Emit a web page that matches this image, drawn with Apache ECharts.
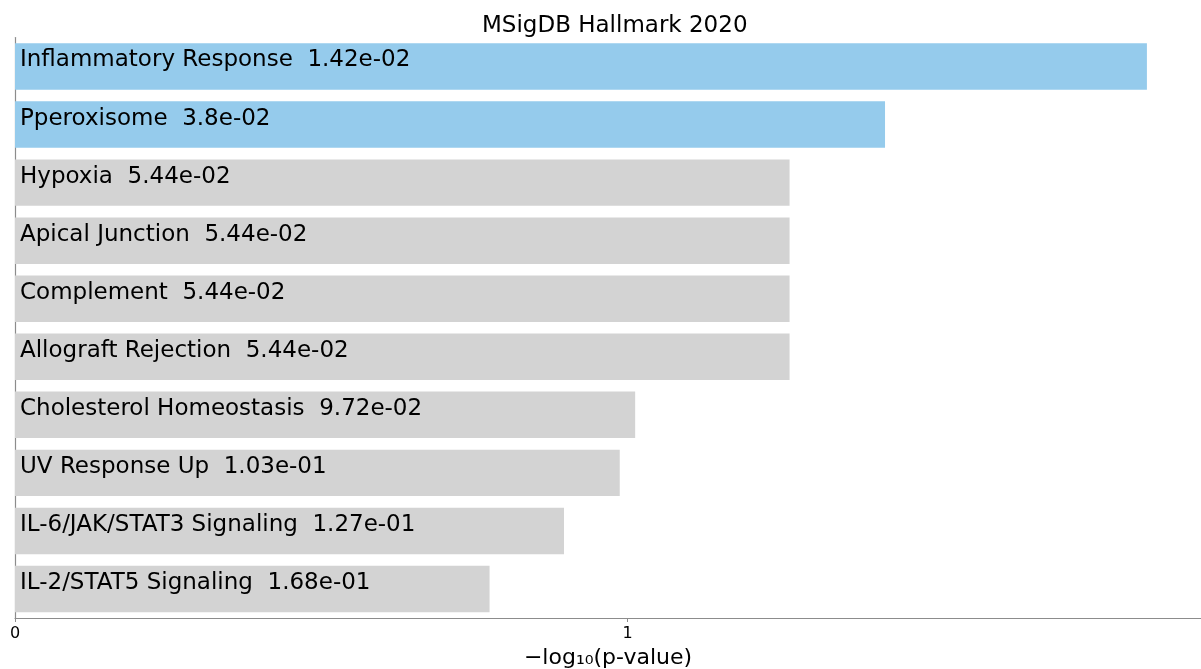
<!DOCTYPE html>
<html>
<head>
<meta charset="utf-8">
<script src="https://cdn.jsdelivr.net/npm/echarts@6/dist/echarts.min.js"></script>
<style>
  html, body { margin: 0; padding: 0; background: #fff; }
  #chart { width: 1201px; height: 669px; }
</style>
</head>
<body>
<div id="chart"></div>
<script>
// Hallmark gene sets, top to bottom, with their p-values
const terms = [
  'Inflammatory Response',
  'Pperoxisome',
  'Hypoxia',
  'Apical Junction',
  'Complement',
  'Allograft Rejection',
  'Cholesterol Homeostasis',
  'UV Response Up',
  'IL-6/JAK/STAT3 Signaling',
  'IL-2/STAT5 Signaling'
];
const pValues = [1.42e-2, 3.8e-2, 5.44e-2, 5.44e-2, 5.44e-2, 5.44e-2, 9.72e-2, 1.03e-1, 1.27e-1, 1.68e-1];
const pLabels = ['1.42e-02', '3.8e-02', '5.44e-02', '5.44e-02', '5.44e-02', '5.44e-02', '9.72e-02', '1.03e-01', '1.27e-01', '1.68e-01'];
// significant terms are highlighted
const significant = [true, true, false, false, false, false, false, false, false, false];
const xTicks = [0, 1];

const FONT = 'DejaVu Sans';
const BLUE = '#95cbec';
const GREY = '#d3d3d3';

// category axis runs bottom-up, so reverse to keep the strongest term on top
const order = terms.map((_, i) => i).reverse();
const data = order.map(i => ({
  value: -Math.log10(pValues[i]),
  name: terms[i],
  itemStyle: { color: significant[i] ? BLUE : GREY },
  label: { formatter: terms[i] + '  ' + pLabels[i] }
}));

const chart = echarts.init(document.getElementById('chart'), null, { renderer: 'canvas' });
chart.setOption({
  animation: false,
  title: {
    text: 'MSigDB Hallmark 2020',
    left: 477,
    top: 10,
    textStyle: { fontFamily: FONT, fontSize: 23, fontWeight: 'normal', color: '#000' }
  },
  grid: { left: 15, right: 0, top: 37.5, bottom: 51, containLabel: false, outerBoundsMode: 'none' },
  xAxis: {
    type: 'value',
    min: 0,
    max: 1.936,
    interval: 1,
    name: '\u2212log\u2081\u2080(p-value)',
    nameLocation: 'middle',
    nameGap: 29,
    nameTextStyle: { fontFamily: FONT, fontSize: 22, color: '#000' },
    axisLine: { show: true, lineStyle: { color: '#8c8c8c', width: 1.2 } },
    axisTick: { show: true, length: 4, lineStyle: { color: '#8c8c8c' } },
    axisLabel: {
      fontFamily: FONT, fontSize: 16, color: '#000', margin: 8,
      formatter: v => (xTicks.indexOf(v) >= 0 ? String(v) : '')
    },
    splitLine: { show: false }
  },
  yAxis: {
    type: 'category',
    data: order.map(i => terms[i]),
    axisLine: { show: true, onZero: false, lineStyle: { color: '#8c8c8c', width: 1.2 } },
    axisTick: { show: false },
    axisLabel: { show: false },
    splitLine: { show: false }
  },
  series: [{
    type: 'bar',
    data: data,
    barCategoryGap: '20%',
    label: {
      show: true,
      position: 'insideLeft',
      offset: [0, -6],
      distance: 5,
      fontFamily: FONT,
      fontSize: 23,
      color: '#000'
    }
  }]
});
</script>
</body>
</html>
